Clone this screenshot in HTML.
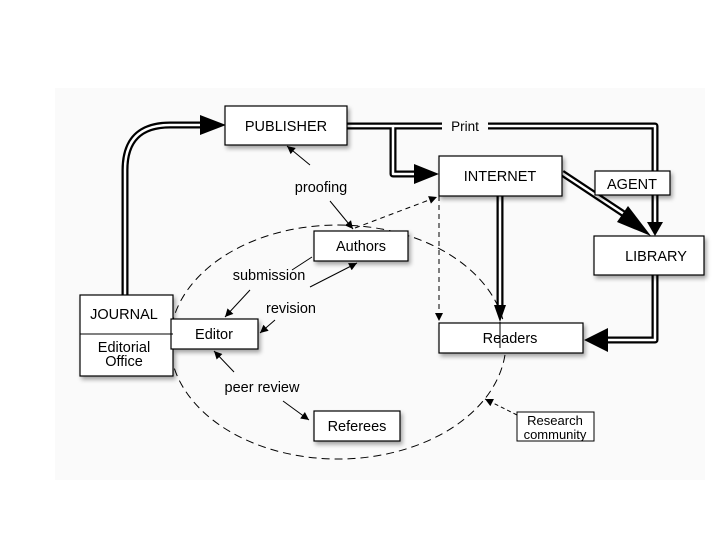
<!DOCTYPE html>
<html><head><meta charset="utf-8"><style>
html,body{margin:0;padding:0;background:#fff;}
svg{display:block;font-family:"Liberation Sans",sans-serif;}
</style></head><body>
<svg width="720" height="540" viewBox="0 0 720 540">
<defs>
<marker id="sm" viewBox="0 0 10 10" refX="10" refY="5" markerWidth="10" markerHeight="8" markerUnits="userSpaceOnUse" orient="auto"><path d="M0,0 L10,5 L0,10 z" fill="#000"/></marker>
<filter id="sh" x="-10%" y="-10%" width="130%" height="140%"><feDropShadow dx="2" dy="3" stdDeviation="2" flood-opacity="0.35"/></filter>
</defs>
<rect x="55" y="88" width="650" height="392" fill="#fafafa"/>
<ellipse cx="338" cy="342" rx="168" ry="117" fill="none" stroke="#000" stroke-dasharray="8,5" stroke-width="1"/>
<g fill="none" stroke-linejoin="round">
<g stroke="#000" stroke-width="7">
<path d="M125,296 V170 Q125,125 170,125 H210"/>
<path d="M347,126 H393 V174 H420"/>
<path d="M393,126 H655 V222"/>
<path d="M562,173 L630,218"/>
<path d="M500,196 V305"/>
<path d="M655,275 V340 H605"/>
</g>
<g stroke="#fff" stroke-width="2.5">
<path d="M125,296 V170 Q125,125 170,125 H210"/>
<path d="M347,126 H393 V174 H420"/>
<path d="M393,126 H655 V222"/>
<path d="M562,173 L630,218"/>
<path d="M500,196 V305"/>
<path d="M655,275 V340 H605"/>
</g>
</g>
<rect x="442" y="119" width="46" height="14" fill="#fafafa"/>
<text x="465" y="131" font-size="13.5" text-anchor="middle">Print</text>
<path d="M200,115 L226,125 L200,135 z"/>
<path d="M414,164 L439,174 L414,184 z"/>
<path d="M647,222 L655,236 L663,222 z"/>
<path d="M617,222 L651,236 L628,206 z"/>
<path d="M494,305 L500,322 L506,305 z"/>
<path d="M608,328 L584,340 L608,352 z"/>
<g stroke="#000" stroke-width="1" fill="none">
<line x1="310" y1="165" x2="287" y2="146" marker-end="url(#sm)"/>
<line x1="330" y1="201" x2="353" y2="229" marker-end="url(#sm)"/>
<line x1="312" y1="257" x2="292" y2="270"/>
<line x1="250" y1="290" x2="225" y2="317" marker-end="url(#sm)"/>
<line x1="310" y1="287" x2="357" y2="263" marker-end="url(#sm)"/>
<line x1="275" y1="320" x2="260" y2="333" marker-end="url(#sm)"/>
<line x1="234" y1="372" x2="214" y2="351" marker-end="url(#sm)"/>
<line x1="283" y1="401" x2="309" y2="420" marker-end="url(#sm)"/>
<line x1="355" y1="228" x2="437" y2="197" stroke-dasharray="5,4" marker-end="url(#sm)"/>
<line x1="439" y1="196" x2="439" y2="321" stroke-dasharray="5,4" marker-end="url(#sm)"/>
<line x1="517" y1="415" x2="485" y2="399" stroke-dasharray="4,3" marker-end="url(#sm)"/>
</g>
<g fill="#fff" stroke="#000" stroke-width="1.2" filter="url(#sh)">
<rect x="225" y="106" width="122" height="39"/>
<rect x="439" y="156" width="123" height="40"/>
<rect x="595" y="171" width="75" height="24"/>
<rect x="594" y="236" width="110" height="39"/>
<rect x="439" y="323" width="144" height="30"/>
<rect x="80" y="295" width="93" height="81"/>
<rect x="171" y="319" width="87" height="30"/>
<rect x="314" y="231" width="94" height="30"/>
<rect x="314" y="411" width="86" height="30"/>
</g>
<line x1="80" y1="334" x2="173" y2="334" stroke="#000"/>
<rect x="517" y="412" width="77" height="29" fill="#fff" stroke="#000"/>
<line x1="500" y1="322" x2="500" y2="348" stroke="#000"/>
<g font-size="14.5" text-anchor="middle" fill="#000">
<text x="286" y="131">PUBLISHER</text>
<text x="500" y="181">INTERNET</text>
<text x="632" y="189">AGENT</text>
<text x="656" y="261">LIBRARY</text>
<text x="510" y="343">Readers</text>
<text x="124" y="319">JOURNAL</text>
<text x="124" y="352">Editorial</text>
<text x="124" y="366">Office</text>
<text x="214" y="339">Editor</text>
<text x="361" y="251">Authors</text>
<text x="357" y="431">Referees</text>
<text x="321" y="192">proofing</text>
<text x="269" y="280">submission</text>
<text x="291" y="313">revision</text>
<text x="262" y="392">peer review</text>
<text x="555" y="425" font-size="13">Research</text>
<text x="555" y="439" font-size="13">community</text>
</g>
</svg>
</body></html>
